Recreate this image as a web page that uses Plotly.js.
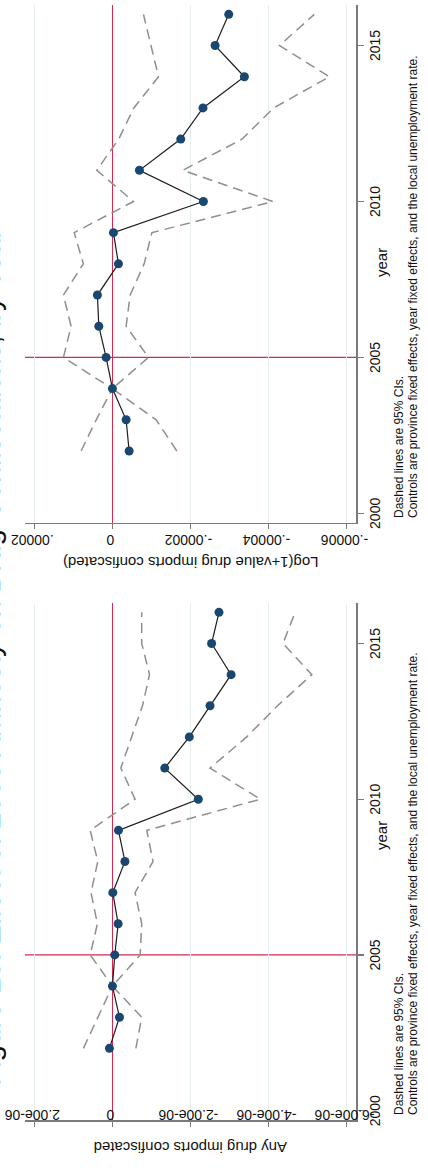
<!DOCTYPE html>
<html>
<head>
<meta charset="utf-8">
<script src="https://cdn.plot.ly/plotly-3.0.1.min.js"></script>
<style>
html,body{margin:0;padding:0;background:#fff;overflow:hidden;width:428px;height:1173px;}
#chart{position:absolute;left:0;top:0;width:1173px;height:428px;transform-origin:0 0;transform:translateY(1173px) rotate(-90deg);}
</style>
</head>
<body>
<div id="chart"></div>
<script>
// ---- data ----
const years = [2002,2003,2004,2005,2006,2007,2008,2009,2010,2011,2012,2013,2014,2015,2016];
const anyCoef  = [0.077e-6,-0.18e-6,0,-0.06e-6,-0.146e-6,-0.01e-6,-0.32e-6,-0.154e-6,-2.20e-6,-1.34e-6,-1.97e-6,-2.50e-6,-3.04e-6,-2.54e-6,-2.73e-6];
const anyUpper = [0.744e-6,0.38e-6,0,0.57e-6,0.385e-6,0.55e-6,0.375e-6,0.57e-6,-0.58e-6,-0.215e-6,-0.50e-6,-0.77e-6,-0.95e-6,-0.75e-6,-0.75e-6];
const anyLower = [-0.60e-6,-0.75e-6,0,-0.71e-6,-0.75e-6,-0.58e-6,-1.04e-6,-0.88e-6,-3.79e-6,-2.50e-6,-3.44e-6,-4.23e-6,-5.11e-6,-4.37e-6,-4.68e-6];
const logCoef  = [-4.28e-6,-3.51e-6,0,1.62e-6,3.49e-6,3.85e-6,-1.54e-6,-0.26e-6,-23.3e-6,-6.92e-6,-17.5e-6,-23.2e-6,-33.8e-6,-26.3e-6,-29.8e-6];
const logUpper = [8.03e-6,4.15e-6,0,12.56e-6,10.59e-6,12.56e-6,7.44e-6,9.8e-6,-5.38e-6,4.0e-6,-1.6e-6,-5.5e-6,-11.8e-6,-9.8e-6,-7.95e-6];
const logLower = [-16.5e-6,-11.2e-6,0,-9.23e-6,-3.51e-6,-4.54e-6,-8.13e-6,-10.1e-6,-41.1e-6,-18.05e-6,-33.2e-6,-41.3e-6,-55.6e-6,-42.8e-6,-51.7e-6];
const yearTicks = [2000,2005,2010,2015];
const anyTickVals = [-6e-6,-4e-6,-2e-6,0,2e-6];
const anyTickText = ['-6.00e-06','-4.00e-06','-2.00e-06','0','2.00e-06'];
const logTickVals = [-6e-5,-4e-5,-2e-5,0,2e-5];
const logTickText = ['-.00006','-.00004','-.00002','0','.00002'];
const refYear = 2005;
const titleText = 'Figure 10: Effect of 2005 Amnesty on Drug Confiscations, by Year';
const anyTitle = 'Any drug imports confiscated';
const logTitle = 'Log(1+value drug imports confiscated)';
const xTitle = 'year';
const note1 = 'Dashed lines are 95% CIs.';
const note2 = 'Controls are province fixed effects, year fixed effects, and the local unemployment rate.';

// ---- styling ----
const W = 1173, H = 428;
const FONT = 'Liberation Sans, Arial, sans-serif';
const NAVY = '#1a476f', CIC = '#8f8f8f', RED = '#d42a4f', AX = '#7a7a7a', GRID = '#e6eef1';
const px = u => u / W;
const py = v => (H - v) / H;

function traces(xa, ya, coef, up, lo) {
  const ci = {color: CIC, width: 1.5, dash: '10px,6px'};
  return [
    {x: years, y: up, xaxis: xa, yaxis: ya, type: 'scatter', mode: 'lines', line: ci, hoverinfo: 'skip'},
    {x: years, y: lo, xaxis: xa, yaxis: ya, type: 'scatter', mode: 'lines', line: ci, hoverinfo: 'skip'},
    {x: years, y: coef, xaxis: xa, yaxis: ya, type: 'scatter', mode: 'lines+markers',
     line: {color: '#1c1c1c', width: 1.2}, marker: {color: NAVY, size: 9}}
  ];
}

const xBase = {range: [1999.7, 2016.3], tickvals: yearTicks, ticks: 'outside', ticklen: 6, tickwidth: 1.2,
  tickcolor: AX, showline: true, linecolor: AX, linewidth: 1.6, showgrid: false, zeroline: false,
  tickfont: {family: FONT, size: 14, color: '#111'}, fixedrange: true};
const yBase = {ticks: 'outside', ticklen: 5, tickwidth: 1.2, tickcolor: AX, showline: true, linecolor: AX,
  linewidth: 1.6, showgrid: true, gridcolor: GRID, gridwidth: 1,
  zeroline: true, zerolinecolor: RED, zerolinewidth: 1.3, tickangle: -90,
  tickfont: {family: FONT, size: 14, color: '#111'}, fixedrange: true};

const xd1 = [px(53), px(570)], xd2 = [px(650.3), px(1168)];
const yd = [py(356), py(25)];

const layout = {
  width: W, height: H, margin: {l: 0, r: 0, t: 0, b: 0}, showlegend: false,
  paper_bgcolor: '#fff', plot_bgcolor: '#fff', font: {family: FONT, color: '#111'},
  xaxis: Object.assign({}, xBase, {domain: xd1, anchor: 'y'}),
  yaxis: Object.assign({}, yBase, {domain: yd, anchor: 'x', range: [-6.24e-6, 2.24e-6], tickvals: anyTickVals, ticktext: anyTickText, ticklabelstandoff: -22}),
  xaxis2: Object.assign({}, xBase, {domain: xd2, anchor: 'y2'}),
  yaxis2: Object.assign({}, yBase, {domain: yd, anchor: 'x2', range: [-62.4e-6, 22.4e-6], tickvals: logTickVals, ticktext: logTickText}),
  shapes: [
    {type: 'line', xref: 'x', yref: 'y domain', x0: refYear, x1: refYear, y0: 0, y1: 1, line: {color: RED, width: 1.3}, layer: 'below'},
    {type: 'line', xref: 'x2', yref: 'y2 domain', x0: refYear, x1: refYear, y0: 0, y1: 1, line: {color: RED, width: 1.3}, layer: 'below'}
  ],
  annotations: [
    {text: titleText, xref: 'paper', yref: 'paper', x: px(85), y: py(8.5), xanchor: 'left', yanchor: 'bottom', showarrow: false, font: {family: FONT, size: 29.5, color: '#111'}},
    {text: anyTitle, xref: 'paper', yref: 'paper', x: px(15), y: py(190.5), textangle: -90, showarrow: false, font: {family: FONT, size: 15, color: '#111'}},
    {text: logTitle, xref: 'paper', yref: 'paper', x: px(611), y: py(190.5), textangle: -90, showarrow: false, font: {family: FONT, size: 15, color: '#111'}},
    {text: xTitle, xref: 'paper', yref: 'paper', x: px(321), y: py(392), showarrow: false, font: {family: FONT, size: 15, color: '#111'}},
    {text: xTitle, xref: 'paper', yref: 'paper', x: px(927), y: py(392), showarrow: false, font: {family: FONT, size: 15, color: '#111'}},
    {text: note1, xref: 'paper', yref: 'paper', x: px(56), y: py(408), xanchor: 'left', showarrow: false, font: {family: FONT, size: 12, color: '#111'}},
    {text: note2, xref: 'paper', yref: 'paper', x: px(56), y: py(422), xanchor: 'left', showarrow: false, font: {family: FONT, size: 12, color: '#111'}},
    {text: note1, xref: 'paper', yref: 'paper', x: px(653), y: py(408), xanchor: 'left', showarrow: false, font: {family: FONT, size: 12, color: '#111'}},
    {text: note2, xref: 'paper', yref: 'paper', x: px(653), y: py(422), xanchor: 'left', showarrow: false, font: {family: FONT, size: 12, color: '#111'}}
  ]
};

const data = traces('x', 'y', anyCoef, anyUpper, anyLower).concat(traces('x2', 'y2', logCoef, logUpper, logLower));
Plotly.newPlot('chart', data, layout, {displayModeBar: false, staticPlot: true});
</script>
</body>
</html>
